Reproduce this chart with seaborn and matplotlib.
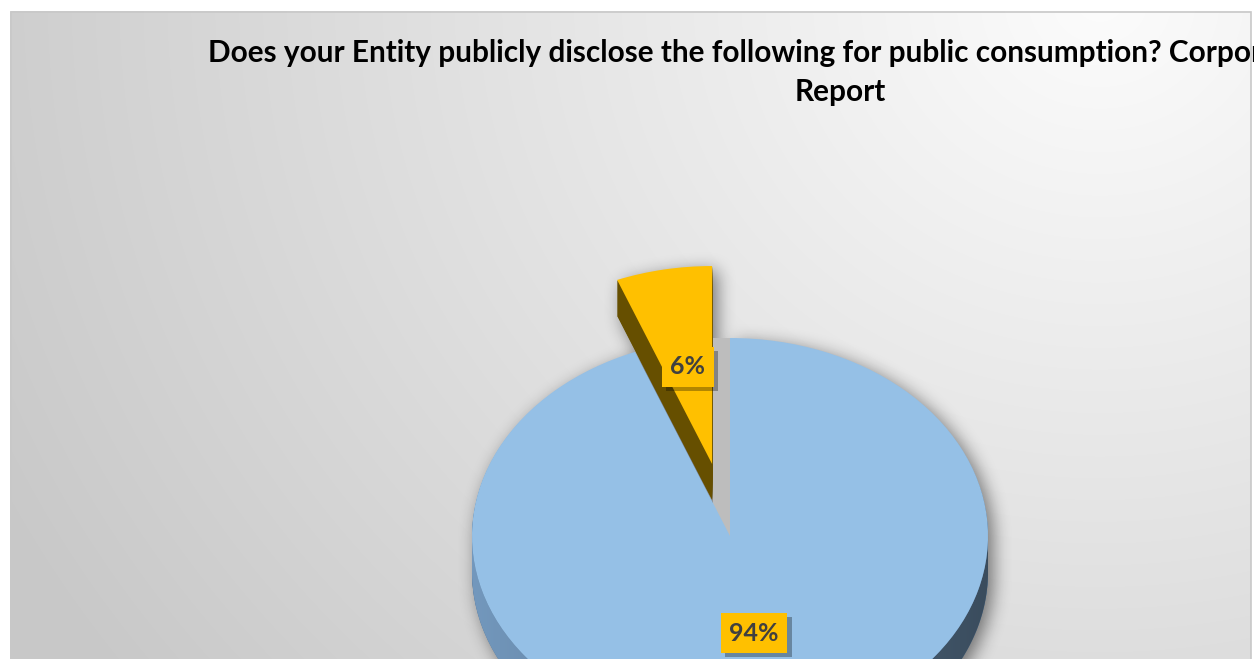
import numpy as np
import matplotlib
matplotlib.use("Agg")
import matplotlib.pyplot as plt
import matplotlib.patches as mpatches
import matplotlib.patheffects as pe
import seaborn as sns

# ---- data -------------------------------------------------------------
title_lines = [
    "Does your Entity publicly disclose the following for public consumption? Corporate Governance",
    "Report",
]
categories = ["No", "Yes"]
values = [6, 94]
explode = [0.37, 0.0]

# ---- style ------------------------------------------------------------
sns.set_theme(style="white")
plt.rcParams["font.family"] = ["Lato", "DejaVu Sans"]

top_colors = sns.color_palette(["#FFC000", "#95C0E6"])
side_colors = sns.color_palette(["#664F00", "#5A7A9A"])
blue_side_light = np.array([0x73, 0x98, 0xBD]) / 255
blue_side_dark = np.array([0x3A, 0x4C, 0x5D]) / 255
label_text_color = "#404040"

W, H = 1254, 659
CX, CY, RX, RY = 730.0, 536.0, 258.0, 198.0   # pie centre / radii in pixels
DEPTH = 36.0 / RY                              # pie thickness in data units
FACE_SHIFT = 17.0 / RX                         # perspective width of the inner cut face

fig = plt.figure(figsize=(W / 100, H / 100), dpi=100, facecolor="white")

# ---- background panel ---------------------------------------------------
bg = fig.add_axes([0, 0, 1, 1])
bg.set_xlim(0, W)
bg.set_ylim(H, 0)
bg.axis("off")

fx0, fy0, fx1 = 10, 11, 1251
gx = np.arange(fx0, fx1) + 0.5
gy = np.arange(fy0, H) + 0.5
GX, GY = np.meshgrid(gx, gy)
r = np.sqrt(((GX - 1100) / 1100) ** 2 + (GY / 1000) ** 2)
shade = np.clip(252 - 46 * r, 200, 252) / 255
bg.imshow(np.dstack([shade] * 3), extent=(fx0, fx1, H, fy0), aspect="auto",
          interpolation="bilinear", zorder=0)
bg.add_patch(mpatches.Rectangle((fx0 + 0.5, fy0 + 0.5), fx1 - fx0 - 1, H,
                                fill=False, ec="#C8C8C8", lw=1.2, zorder=3))


# ---- soft drop shadow of the pie silhouette ------------------------------
def box_blur(a, rad, axis):
    a = np.moveaxis(a, axis, -1)
    p = np.pad(a, [(0, 0)] * (a.ndim - 1) + [(rad + 1, rad)], mode="edge")
    c = np.cumsum(p, axis=-1)
    out = (c[..., 2 * rad + 1:] - c[..., :-2 * rad - 1]) / (2 * rad + 1)
    return np.moveaxis(out, -1, axis)


def shift(a, dy, dx):
    out = np.zeros_like(a)
    out[dy:, dx:] = a[:a.shape[0] - dy, :a.shape[1] - dx]
    return out


px = np.arange(W) + 0.5
py = np.arange(H + 40) + 0.5          # extend below the canvas so the blur has no edge
PX, PY = np.meshgrid(px, py)
X = (PX - CX) / RX
Y = (CY - PY) / RY

mask = np.zeros_like(X)
cum = np.cumsum([0] + values) / np.sum(values) * 360.0
for i, v in enumerate(values):
    a0, a1 = 90 + cum[i], 90 + cum[i + 1]
    mid = np.deg2rad((a0 + a1) / 2)
    ox, oy = explode[i] * np.cos(mid), explode[i] * np.sin(mid)
    for t in np.linspace(0, DEPTH, 10):
        xs, ys = X - ox, Y - oy + t
        ang = np.mod(np.degrees(np.arctan2(ys, xs)) - a0, 360)
        inside = (xs ** 2 + ys ** 2 <= 1) & (ang <= (a1 - a0))
        mask = np.maximum(mask, inside.astype(float))

mask = shift(mask, 5, 5)
for _ in range(3):
    mask = box_blur(mask, 8, 0)
    mask = box_blur(mask, 8, 1)
mask = mask[:H]
shadow = np.zeros((H, W, 4))
shadow[..., 3] = 0.5 * mask
bg.imshow(shadow, extent=(0, W, H, 0), aspect="auto", interpolation="bilinear", zorder=1)

# ---- 3-D pie -------------------------------------------------------------
pa = fig.add_axes([0, 0, 1, 1])
pa.patch.set_alpha(0)

# extruded sides: stacked layers from the bottom face up
n_layers = 36
for k in range(n_layers):
    dy = -DEPTH + DEPTH * k / n_layers
    pa.pie(values, explode=explode, colors=side_colors, startangle=90,
           counterclock=True, center=(0, dy), radius=1,
           wedgeprops=dict(linewidth=0, edgecolor="none"))

# shaded front wall of the large slice
theta = np.linspace(np.pi, 2 * np.pi, 200)
band = np.vstack([
    np.column_stack([np.cos(theta), np.sin(theta)]),
    np.column_stack([np.cos(theta[::-1]), np.sin(theta[::-1]) - DEPTH]),
])
band_patch = mpatches.Polygon(band, closed=True, transform=pa.transData,
                              fc="none", ec="none")
pa.add_patch(band_patch)
tgrad = np.linspace(0, 1, 256)
grad = blue_side_light[None, :] * (1 - tgrad[:, None]) + blue_side_dark[None, :] * tgrad[:, None]
img = pa.imshow(grad[None, :, :], extent=(-1, 1, -1 - DEPTH, 0), aspect="auto",
                interpolation="bilinear", zorder=2)
img.set_clip_path(band_patch)

# inner cut face seen through the gap
cut = np.deg2rad(90 + cum[-1])
face = mpatches.Polygon([(0, 0), (np.cos(cut), np.sin(cut)),
                         (np.cos(cut) - FACE_SHIFT, np.sin(cut)), (-FACE_SHIFT, 0)],
                        closed=True, fc="#BDBDBD", ec="none", zorder=2.5)
pa.add_patch(face)

wedges, texts, autotexts = pa.pie(
    values, explode=explode, colors=top_colors, startangle=90, counterclock=True,
    center=(0, 0), radius=1, autopct=lambda p: f"{p:.0f}%", pctdistance=0.5,
    wedgeprops=dict(linewidth=0, edgecolor="none", zorder=3),
    textprops=dict(color=label_text_color, fontsize=18, fontweight="bold", zorder=6),
)

for t in autotexts:
    t.set_bbox(dict(boxstyle="square,pad=0.34", fc="#FFC000", ec="none"))
    t.get_bbox_patch().set_path_effects([
        pe.SimplePatchShadow(offset=(3, -3), shadow_rgbFace="black", alpha=0.3),
        pe.Normal(),
    ])
    t.set_zorder(6)

pa.set_aspect("auto")
pa.set_xlim(-CX / RX, (W - CX) / RX)
pa.set_ylim(-(H - CY) / RY, CY / RY)
pa.axis("off")

# ---- title --------------------------------------------------------------
bg.text(840, 62, title_lines[0], ha="center", va="baseline", fontsize=21.4,
        fontweight="bold", color="black", zorder=4)
bg.text(840, 101, title_lines[1], ha="center", va="baseline", fontsize=21.4,
        fontweight="bold", color="black", zorder=4)

fig.savefig("out.png", dpi=100, facecolor="white")
